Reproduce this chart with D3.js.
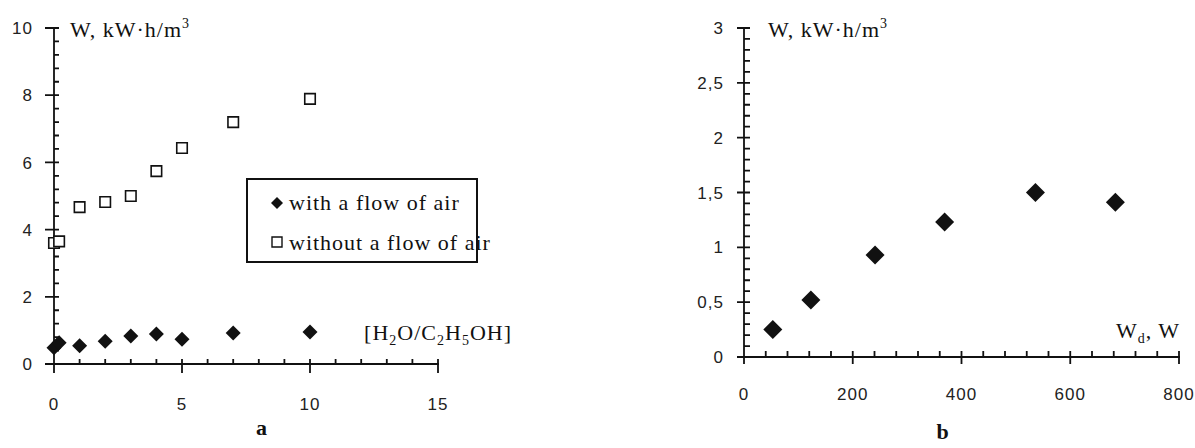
<!DOCTYPE html>
<html>
<head>
<meta charset="utf-8">
<script src="https://cdn.jsdelivr.net/npm/d3@7"></script>
<style>
  body { margin: 0; background: #fff; }
  .num { font-family: "Liberation Sans", Arial, sans-serif; font-size: 17px; letter-spacing: 1px; fill: #222; }
  .lbl { font-family: "Liberation Serif", "Times New Roman", serif; font-size: 22px; letter-spacing: 1px; fill: #111; }
</style>
</head>
<body>
<div id="chart"></div>
<script>
const width = 1195;
const height = 448;

// chart a: energy vs H2O/C2H5OH ratio
const ratioWith = [0, 0.2, 1, 2, 3, 4, 5, 7, 10];
const energyWith = [0.48, 0.63, 0.54, 0.68, 0.83, 0.89, 0.74, 0.92, 0.95];
const ratioWithout = [0, 0.2, 1, 2, 3, 4, 5, 7, 10];
const energyWithout = [3.6, 3.65, 4.67, 4.82, 5.0, 5.74, 6.43, 7.2, 7.89];
const ticksAx = [0, 5, 10, 15];
const ticksAy = [0, 2, 4, 6, 8, 10];
const legendLabels = ["with a flow of air", "without a flow of air"];

// chart b: energy vs discharge power
const powerB = [53, 123, 241, 369, 536, 683];
const energyB = [0.25, 0.52, 0.93, 1.23, 1.50, 1.41];
const ticksBx = [0, 200, 400, 600, 800];
const ticksBy = [0, 0.5, 1, 1.5, 2, 2.5, 3];
const ticksByLabels = ["0", "0,5", "1", "1,5", "2", "2,5", "3"];

const svg = d3.select("#chart")
    .append("svg")
    .attr("width", width)
    .attr("height", height);

const xA = d3.scaleLinear().domain([0, 15]).range([54, 438]);
const yA = d3.scaleLinear().domain([0, 10]).range([364, 28]);
const xB = d3.scaleLinear().domain([0, 800]).range([744, 1179]);
const yB = d3.scaleLinear().domain([0, 3]).range([357, 28]);

const ink = "#111";

// axis lines, minor ticks inside, major ticks crossing the line
function drawAxes(xs, ys, opt) {
    const x0 = xs.range()[0], y0 = ys.range()[0];
    const yMinor = d3.range(0, opt.yMinorN + 1).map(i => ys.domain()[0] + i * opt.yMinor);
    const xMinor = d3.range(0, opt.xMinorN + 1).map(i => xs.domain()[0] + i * opt.xMinor);

    const p = d3.path();
    yMinor.forEach(v => { p.moveTo(x0, ys(v)); p.lineTo(x0 + opt.minorLen, ys(v)); });
    opt.yMajor.forEach(v => { p.moveTo(x0 - opt.majorOut, ys(v)); p.lineTo(x0 + opt.majorIn, ys(v)); });
    xMinor.forEach(v => { p.moveTo(xs(v), y0); p.lineTo(xs(v), y0 - opt.minorLen); });
    opt.xMajor.forEach(v => { p.moveTo(xs(v), y0 - opt.majorIn); p.lineTo(xs(v), y0 + opt.majorOut); });
    p.moveTo(x0, ys.range()[1]); p.lineTo(x0, y0 + opt.majorOut);
    p.moveTo(x0 - opt.majorOut, y0); p.lineTo(xs.range()[1] + 1, y0);

    svg.append("path")
        .attr("d", p.toString())
        .attr("fill", "none")
        .attr("stroke", ink)
        .attr("stroke-width", 1.8);

    // tick labels
    svg.append("g").selectAll("text").data(opt.xMajor).join("text")
        .attr("class", "num")
        .attr("x", d => xs(d)).attr("y", y0 + opt.xPad)
        .attr("text-anchor", "middle")
        .text(d => d);
    svg.append("g").selectAll("text").data(opt.yMajor).join("text")
        .attr("class", "num")
        .attr("x", x0 - opt.yPad).attr("y", d => ys(d)).attr("dy", "0.36em")
        .attr("text-anchor", "end")
        .text((d, i) => opt.yLabels ? opt.yLabels[i] : d);
}

drawAxes(xA, yA, {
    yMinor: 0.4, yMinorN: 25, yMajor: ticksAy,
    xMinor: 1, xMinorN: 15, xMajor: ticksAx,
    minorLen: 5, majorOut: 9, majorIn: 4, xPad: 46, yPad: 21
});
drawAxes(xB, yB, {
    yMinor: 0.1, yMinorN: 30, yMajor: ticksBy, yLabels: ticksByLabels,
    xMinor: 40, xMinorN: 20, xMajor: ticksBx,
    minorLen: 6, majorOut: 7, majorIn: 5, xPad: 43, yPad: 20
});

// markers
const diamond = size => d3.symbol(d3.symbolSquare, size * size / 2)();
const square = size => d3.symbol(d3.symbolSquare, size * size)();

svg.append("g").selectAll("path")
    .data(ratioWithout.map((r, i) => [r, energyWithout[i]]))
    .join("path")
    .attr("d", square(10.5))
    .attr("transform", d => `translate(${xA(d[0])},${yA(d[1])})`)
    .attr("fill", "#fff").attr("stroke", ink).attr("stroke-width", 1.6);

svg.append("g").selectAll("path")
    .data(ratioWith.map((r, i) => [r, energyWith[i]]))
    .join("path")
    .attr("d", diamond(15))
    .attr("transform", d => `translate(${xA(d[0])},${yA(d[1])}) rotate(45)`)
    .attr("fill", ink);

svg.append("g").selectAll("path")
    .data(powerB.map((p, i) => [p, energyB[i]]))
    .join("path")
    .attr("d", diamond(19))
    .attr("transform", d => `translate(${xB(d[0])},${yB(d[1])}) rotate(45)`)
    .attr("fill", ink);

// legend
const legend = svg.append("g");
legend.append("rect")
    .attr("x", 247).attr("y", 179).attr("width", 230).attr("height", 83)
    .attr("fill", "#fff").attr("stroke", ink).attr("stroke-width", 2);
legend.append("path").attr("d", diamond(12))
    .attr("transform", "translate(277,203) rotate(45)").attr("fill", ink);
legend.append("path").attr("d", square(10))
    .attr("transform", "translate(277,242)")
    .attr("fill", "#fff").attr("stroke", ink).attr("stroke-width", 1.4);
legendLabels.forEach((t, i) => {
    legend.append("text").attr("class", "lbl")
        .attr("x", 289).attr("y", 210 + i * 40).text(t);
});

// axis titles
function yTitle(x) {
    const t = svg.append("text").attr("class", "lbl").attr("x", x).attr("y", 37);
    t.append("tspan").text("W, kW·h/m");
    t.append("tspan").attr("dy", -9).attr("font-size", 14).text("3");
}
yTitle(70);
yTitle(768);

const xt = svg.append("text").attr("class", "lbl")
    .attr("x", 512).attr("y", 340).attr("text-anchor", "end");
[["[H", 0], ["2", 5], ["O/C", -5], ["2", 5], ["H", -5], ["5", 5], ["OH]", -5]].forEach(([s, dy], i) => {
    xt.append("tspan").attr("dy", dy).attr("font-size", i % 2 ? 14 : null).text(s);
});

const wt = svg.append("text").attr("class", "lbl").attr("x", 1116).attr("y", 338);
wt.append("tspan").text("W");
wt.append("tspan").attr("dy", 5).attr("font-size", 14).text("d");
wt.append("tspan").attr("dy", -5).text(", W");

svg.append("text").attr("class", "lbl").attr("font-weight", "bold").attr("font-size", 20)
    .attr("x", 262).attr("y", 435).attr("text-anchor", "middle").text("a");
svg.append("text").attr("class", "lbl").attr("font-weight", "bold").attr("font-size", 20)
    .attr("x", 943).attr("y", 439).attr("text-anchor", "middle").text("b");
</script>
</body>
</html>
